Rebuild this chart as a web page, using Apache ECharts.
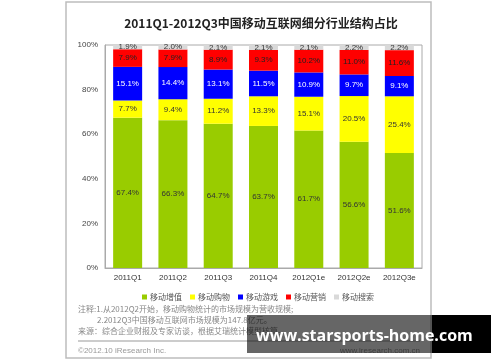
<!DOCTYPE html>
<html><head><meta charset="utf-8">
<script src="https://cdn.jsdelivr.net/npm/echarts@6/dist/echarts.min.js"></script>
<style>html,body{margin:0;padding:0;background:#fff;}#c{width:500px;height:362px;}</style>
</head><body><div id="c"></div>
<script>
const categories = ['2011Q1','2011Q2','2011Q3','2011Q4','2012Q1e','2012Q2e','2012Q3e'];
const seriesNames = ['移动增值','移动购物','移动游戏','移动营销','移动搜索'];
const valueAdded = [67.4,66.3,64.7,63.7,61.7,56.6,51.6];
const shopping = [7.7,9.4,11.2,13.3,15.1,20.5,25.4];
const games = [15.1,14.4,13.1,11.5,10.9,9.7,9.1];
const marketing = [7.9,7.9,8.9,9.3,10.2,11.0,11.6];
const search = [1.9,2.0,2.1,2.1,2.1,2.2,2.2];
const yTicks = [0,20,40,60,80,100];

const colors = ['#99cc00','#ffff00','#0000ff','#ff0000','#d9d9d9'];
const labelColors = ['#333','#333','#fff','#222','#333'];
const dataSets = [valueAdded, shopping, games, marketing, search];
const font = '"Liberation Sans", Arial, sans-serif';
const cjk = '"Noto Sans CJK SC", sans-serif';

const chart = echarts.init(document.getElementById('c'), null, {renderer:'canvas'});
chart.setOption({
  animation:false,
  grid:{left:105, top:45, width:317, height:223, show:true, borderColor:'#aaa', borderWidth:1},
  legend:{left:137, top:288, itemWidth:5, itemHeight:5, itemGap:8, icon:'rect',
    textStyle:{fontSize:8, color:'#555', fontFamily:cjk, padding:[0,0,0,-2]},
    data:seriesNames},
  xAxis:{type:'category', data:categories,
    axisLine:{lineStyle:{color:'#aaa'}}, axisTick:{show:false},
    axisLabel:{fontSize:8, color:'#333', fontFamily:font, margin:6}},
  yAxis:{type:'value', min:yTicks[0], max:yTicks[yTicks.length-1], interval:20,
    axisLine:{show:true, lineStyle:{color:'#aaa'}}, axisTick:{show:false}, splitLine:{show:false},
    axisLabel:{fontSize:8, color:'#444', fontFamily:font, margin:7, formatter:'{value}%'}},
  series: seriesNames.map((n,i)=>({
    name:n, type:'bar', stack:'t', barWidth:29, data:dataSets[i],
    itemStyle:{color:colors[i]},
    label:{show:true, position:'inside', fontSize:8, fontFamily:font, color:labelColors[i],
      formatter:p=>p.value.toFixed(1)+'%'}
  })),
  graphic:[
    {type:'rect', z:-10, shape:{x:66, y:2, width:365, height:356}, style:{fill:'#fff', stroke:'#bdbdbd', lineWidth:1.5}},
    {type:'text', style:{text:'2011Q1-2012Q3中国移动互联网细分行业结构占比', x:261, y:23, align:'center', verticalAlign:'middle',
      font:'bold 12px '+cjk, fill:'#222'}},
    {type:'text', style:{text:'注释:1.从2012Q2开始，移动购物统计的市场规模为营收规模;', x:78, y:309, verticalAlign:'middle', font:'8px '+cjk, fill:'#888'}},
    {type:'text', style:{text:'2.2012Q3中国移动互联网市场规模为147.8亿元。', x:97, y:320, verticalAlign:'middle', font:'8px '+cjk, fill:'#888'}},
    {type:'text', style:{text:'来源：综合企业财报及专家访谈，根据艾瑞统计模型核算。', x:78, y:331, verticalAlign:'middle', font:'8px '+cjk, fill:'#888'}},
    {type:'line', shape:{x1:78, y1:341, x2:420, y2:341}, style:{stroke:'#999', lineWidth:1}},
    {type:'text', style:{text:'©2012.10 iResearch Inc.', x:78, y:351, verticalAlign:'middle', font:'8px '+font, fill:'#999'}},
    {type:'text', style:{text:'www.iresearch.com.cn', x:420, y:351, align:'right', verticalAlign:'middle', font:'8px '+font, fill:'#999'}},
    {type:'rect', z:100, shape:{x:247, y:315, width:185, height:38}, style:{fill:'rgba(0,0,0,0.6)'}},
    {type:'rect', z:100, shape:{x:432, y:315, width:59, height:38}, style:{fill:'#000'}},
    {type:'text', z:101, style:{text:'www.starsports-home.com', x:256, y:336, verticalAlign:'middle', font:'bold 16px "Open Sans", sans-serif', fill:'#fff'}}
  ]
});
</script></body></html>
